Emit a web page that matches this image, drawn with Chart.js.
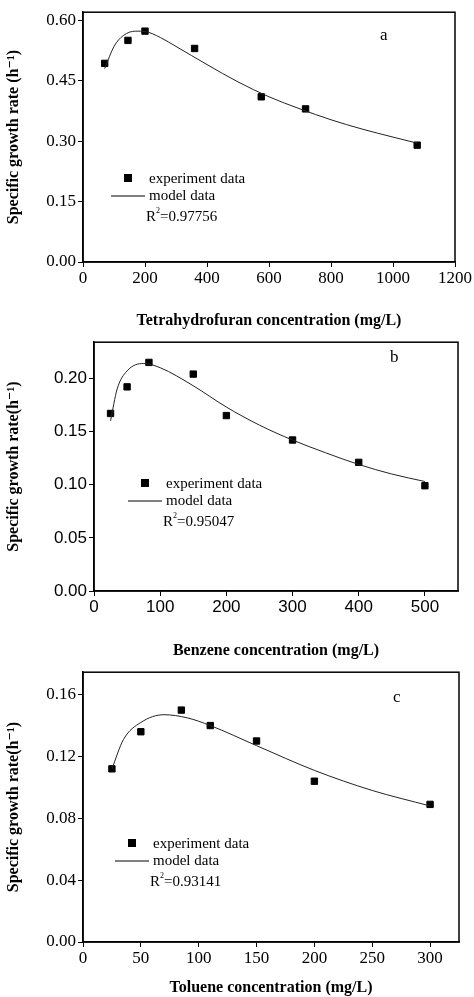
<!DOCTYPE html>
<html><head><meta charset="utf-8">
<script src="https://cdn.jsdelivr.net/npm/chart.js@4"></script>
<style>body{margin:0;background:#fff;width:474px;height:997px;position:relative;overflow:hidden}
.c{position:absolute;left:0}</style></head><body>
<div class="c" style="top:0;width:474px;height:330px"><canvas id="ca"></canvas></div>
<div class="c" style="top:330px;width:474px;height:330px"><canvas id="cb"></canvas></div>
<div class="c" style="top:660px;width:474px;height:337px"><canvas id="cc"></canvas></div>
<script>
// Panel a: Tetrahydrofuran
const thfX = [70,145,200,360,575,718,1078];
const thfY = [0.493,0.550,0.573,0.530,0.410,0.380,0.290];
const thfModelX = [70,100,130,170,200,250,300,400,500,600,700,800,900,1000,1078];
const thfModelY = [0.480,0.535,0.562,0.573,0.572,0.557,0.535,0.490,0.447,0.410,0.380,0.353,0.330,0.310,0.295];
const thfYTicks = [0,0.15,0.30,0.45,0.60];
// Panel b: Benzene
const benX = [25,50,83,150,200,300,400,500];
const benY = [0.167,0.192,0.215,0.204,0.165,0.142,0.121,0.099];
const benModelX = [25,35,50,75,100,150,200,250,300,350,400,450,500];
const benModelY = [0.160,0.190,0.207,0.214,0.210,0.193,0.173,0.156,0.142,0.130,0.119,0.110,0.103];
// Panel c: Toluene
const tolX = [25,50,85,110,150,200,300];
const tolY = [0.112,0.136,0.150,0.140,0.130,0.104,0.089];
const tolModelX = [25,35,50,70,90,110,150,200,250,300];
const tolModelY = [0.112,0.131,0.142,0.147,0.145,0.140,0.127,0.111,0.098,0.088];

const serif = "'Liberation Serif','DejaVu Serif',serif";
const sans = "'Liberation Sans',Arial,sans-serif";

function make(id, o){
  const pts = o.x.map((v,i)=>({x:v,y:o.y[i]}));
  const model = o.mx.map((v,i)=>({x:v,y:o.my[i]}));
  new Chart(document.getElementById(id),{
    type:'scatter',
    data:{datasets:[
      {data:model,showLine:true,pointRadius:0,borderColor:'#222',borderWidth:1,tension:0.4,cubicInterpolationMode:'monotone'},
      {data:pts,pointStyle:'rect',pointRadius:4.5,backgroundColor:'#000',borderColor:'#000'}
    ]},
    options:{responsive:true,maintainAspectRatio:false,animation:false,
      layout:{padding:{top:o.top,right:o.right,left:0,bottom:0}},
      plugins:{legend:{display:false},tooltip:{enabled:false}},
      scales:{
        x:{type:'linear',min:0,max:o.xmax,
          afterBuildTicks:s=>{s.ticks=o.xt.map(v=>({value:v}));},
          afterFit:s=>{s.height=o.xh;},
          grid:{display:true,drawOnChartArea:false,color:'#000',tickLength:5,tickWidth:1},
          border:{color:'#000',width:1.5},
          ticks:{color:'#000',font:{family:o.tf,size:17},padding:1,maxRotation:0,autoSkip:false,callback:v=>String(v)},
          title:{display:true,text:o.xtitle,color:'#000',font:{family:serif,size:16,weight:'bold'},padding:{top:o.xtp,bottom:0}}},
        y:{min:0,max:o.ymax,
          afterBuildTicks:s=>{s.ticks=o.yt.map(v=>({value:v}));},
          afterFit:s=>{s.width=o.yw;},
          grid:{display:true,drawOnChartArea:false,color:'#000',tickLength:5,tickWidth:1},
          border:{color:'#000',width:1.5},
          ticks:{color:'#000',font:{family:o.tf,size:17},padding:2,autoSkip:false,callback:v=>v.toFixed(2)},
          title:{display:true,text:o.ytitle,color:'#000',font:{family:serif,size:16,weight:'bold'},padding:{top:4,bottom:2}}}
      }},
    plugins:[{id:'deco',afterDraw(c){
      const a=c.chartArea,ctx=c.ctx;
      ctx.save();ctx.strokeStyle='#000';ctx.lineWidth=1.5;
      ctx.strokeRect(a.left,a.top,a.right-a.left,a.bottom-a.top);
      ctx.fillStyle='#000';ctx.font="17px "+serif;ctx.textBaseline='middle';
      ctx.fillText(o.letter,o.lx,o.ly);
      ctx.font="15px "+serif;
      ctx.fillRect(o.gx-4,o.gy-4,8,8);
      ctx.fillText('experiment data',o.gx+21,o.gy+1);
      ctx.lineWidth=1;ctx.beginPath();ctx.moveTo(o.gx-17,o.gy+18);ctx.lineTo(o.gx+17,o.gy+18);ctx.stroke();
      ctx.fillText('model data',o.gx+21,o.gy+18);
      ctx.fillText('R',o.gx+18,o.gy+39);
      const w=ctx.measureText('R').width;
      ctx.font="8px "+serif;ctx.fillText('2',o.gx+18+w,o.gy+33);
      ctx.font="15px "+serif;ctx.fillText('=0.'+o.r2,o.gx+18+w+4,o.gy+39);
      ctx.restore();
    }}]
  });
}
make('ca',{x:thfX,y:thfY,mx:thfModelX,my:thfModelY,xmax:1200,xt:[0,200,400,600,800,1000,1200],ymax:0.62,yt:thfYTicks,
  top:3,right:19,xh:68,xtp:2,yw:83,tf:serif,xtitle:'Tetrahydrofuran concentration (mg/L)',ytitle:'Specific growth rate (h\u207B\u00B9)',
  letter:'a',lx:380,ly:36,gx:128,gy:178,r2:'97756'});
make('cb',{x:benX,y:benY,mx:benModelX,my:benModelY,xmax:550,xt:[0,100,200,300,400,500],ymax:0.234,yt:[0,0.05,0.10,0.15,0.20],
  top:8,right:16,xh:69,xtp:6,yw:94,tf:sans,xtitle:'Benzene concentration (mg/L)',ytitle:'Specific growth rate(h\u207B\u00B9)',
  letter:'b',lx:390,ly:28,gx:145,gy:153,r2:'95047'});
make('cc',{x:tolX,y:tolY,mx:tolModelX,my:tolModelY,xmax:325,xt:[0,50,100,150,200,250,300],ymax:0.1745,yt:[0,0.04,0.08,0.12,0.16],
  top:8,right:15,xh:55,xtp:12,yw:83,tf:serif,xtitle:'Toluene concentration (mg/L)',ytitle:'Specific growth rate(h\u207B\u00B9)',
  letter:'c',lx:393,ly:38,gx:132,gy:183,r2:'93141'});
</script></body></html>
